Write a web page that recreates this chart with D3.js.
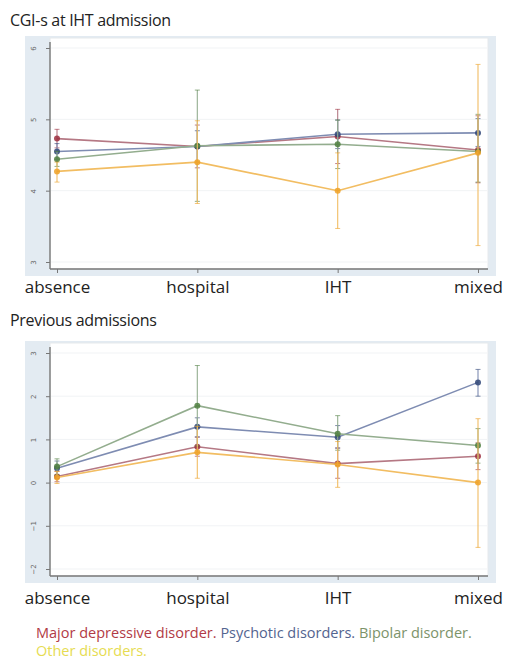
<!DOCTYPE html>
<html><head><meta charset="utf-8">
<script src="https://cdn.jsdelivr.net/npm/d3@7"></script>
<style>body{margin:0;background:#fff;}svg{display:block;font-family:"Open Sans","DejaVu Sans",sans-serif;}</style>
</head><body>
<svg id="c" width="506" height="667"></svg>
<script>
const categories = ["absence","hospital","IHT","mixed"];
const seriesNames = ["Major depressive disorder","Psychotic disorders","Bipolar disorder","Other disorders"];
const seriesColors = ["#9e2f3f","#2f4577","#4f7f3f","#eea126"];
const lineColors = ["#b57884","#7e8cb2","#93ad8e","#f2bd62"];
const legendColors = ["#b13a45","#53648f","#7c936a","#e6dc52"];

// Panel 1: CGI-s at IHT admission (mean, lower, upper)
const cgiMean = [[4.73,4.62,4.76,4.57],[4.55,4.62,4.79,4.81],[4.44,4.63,4.65,4.55],[4.27,4.40,4.00,4.53]];
const cgiLow  = [[4.60,4.32,4.38,4.11],[4.44,4.40,4.59,4.62],[4.34,3.85,4.31,4.12],[4.12,3.82,3.47,3.23]];
const cgiHigh = [[4.86,4.92,5.14,5.05],[4.66,4.84,4.99,5.01],[4.55,5.41,4.99,5.07],[4.40,4.98,4.53,5.77]];
const cgiTicks = [3,4,5,6];

// Panel 2: Previous admissions
const prevMean = [[0.14,0.83,0.44,0.61],[0.33,1.29,1.05,2.32],[0.37,1.78,1.13,0.86],[0.12,0.70,0.42,0.00]];
const prevLow  = [[0.02,0.61,0.10,0.30],[0.16,1.06,0.80,2.00],[0.18,0.85,0.75,0.45],[-0.02,0.10,-0.11,-1.50]];
const prevHigh = [[0.26,1.05,0.80,0.92],[0.50,1.50,1.32,2.62],[0.55,2.71,1.55,1.25],[0.26,1.30,0.95,1.48]];
const prevTicks = [-2,-1,0,1,2,3];

const svg = d3.select("#c");

function panel(opt){
  const {title, titleY, top, bottom, domain, ticks, mean, low, high} = opt;
  const left = 50, right = 488;
  svg.append("rect").attr("x",25).attr("y",top-2).attr("width",471).attr("height",bottom-top+9).attr("fill","#e3ebf2");
  svg.append("rect").attr("x",left).attr("y",top).attr("width",right-left).attr("height",bottom-top).attr("fill","#fff").attr("stroke","#e6e9ec");
  svg.append("text").attr("x",10).attr("y",titleY).attr("font-size",16).attr("letter-spacing",-0.3).attr("fill","#222").text(title);

  const x = d3.scalePoint().domain(categories).range([57,478]);
  const y = d3.scaleLinear().domain(domain).range([opt.y0, opt.y1]);

  svg.append("g").selectAll("line").data(ticks).join("line")
    .attr("x1",left+1).attr("x2",right-1).attr("y1",d=>y(d)).attr("y2",d=>y(d))
    .attr("stroke","#f1f3f5").attr("stroke-width",1);

  const ya = svg.append("g").attr("transform",`translate(${left},0)`)
    .call(d3.axisLeft(y).tickValues(ticks).tickSize(4).tickFormat(d3.format("d")));
  ya.select(".domain").attr("stroke","#777").attr("stroke-width",1.4).attr("d",`M0,${top+4}V${bottom}`);
  ya.selectAll(".tick line").attr("stroke","#777");
  ya.selectAll(".tick text").attr("font-size",7).attr("fill","#666").attr("x",-16).attr("dy",0)
    .attr("text-anchor","middle").attr("transform","rotate(-90,-16,0)").attr("dominant-baseline","middle")
    .attr("font-family","DejaVu Sans");

  const xa = svg.append("g").attr("transform",`translate(0,${bottom})`)
    .call(d3.axisBottom(x).tickSize(4));
  xa.select(".domain").attr("stroke","#777").attr("stroke-width",1.4).attr("d",`M${left},0H${right}`);
  xa.selectAll(".tick line").attr("stroke","#777");
  xa.selectAll(".tick text").attr("font-size",17).attr("fill","#222").attr("y",0).attr("dy",0)
    .attr("transform",`translate(0,${opt.labelY-bottom})`)
    .attr("font-family","'Open Sans',sans-serif").attr("text-anchor","middle");

  const line = d3.line().x((d,i)=>x(categories[i])).y(d=>y(d));
  mean.forEach((m,s)=>{
    const g = svg.append("g");
    m.forEach((v,i)=>{
      const cx = x(categories[i]);
      g.append("line").attr("x1",cx).attr("x2",cx).attr("y1",y(low[s][i])).attr("y2",y(high[s][i]))
        .attr("stroke",lineColors[s]).attr("stroke-width",1.2).attr("opacity",0.9);
      [low[s][i],high[s][i]].forEach(e=>{
        g.append("line").attr("x1",cx-2.5).attr("x2",cx+2.5).attr("y1",y(e)).attr("y2",y(e))
          .attr("stroke",seriesColors[s]).attr("stroke-width",1).attr("opacity",0.6);
      });
    });
    g.append("path").attr("d",line(m)).attr("fill","none").attr("stroke",lineColors[s]).attr("stroke-width",1.6);
    g.selectAll("circle").data(m).join("circle")
      .attr("cx",(d,i)=>x(categories[i])).attr("cy",d=>y(d)).attr("r",3)
      .attr("fill",seriesColors[s]).attr("opacity",0.85);
  });
}

panel({title:"CGI-s at IHT admission", titleY:26, top:38, bottom:269, labelY:293, domain:[3,6], y0:262, y1:48,
  ticks:cgiTicks, mean:cgiMean, low:cgiLow, high:cgiHigh});
panel({title:"Previous admissions", titleY:326, top:343, bottom:576, labelY:604, domain:[-2,3], y0:569, y1:353,
  ticks:prevTicks, mean:prevMean, low:prevLow, high:prevHigh});

const leg = svg.append("text").attr("x",36).attr("y",638).attr("font-size",14.5);
const parts = [["Major depressive disorder. ",0],["Psychotic disorders. ",1],["Bipolar disorder.",2]];
parts.forEach(p=> leg.append("tspan").attr("fill",legendColors[p[1]]).text(p[0]));
svg.append("text").attr("x",36).attr("y",656).attr("font-size",14.5).attr("fill",legendColors[3]).text("Other disorders.");
</script>
</body></html>
